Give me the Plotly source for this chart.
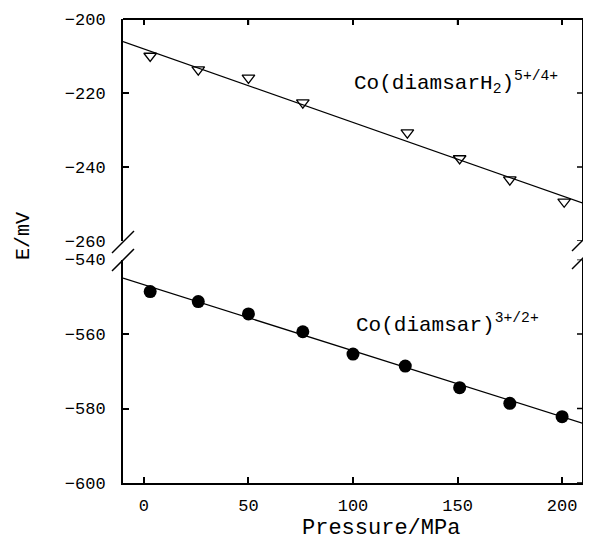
import plotly.graph_objects as go

# ---- data ----
pressure_top = [3, 26, 50, 76, 126, 151, 175, 201]
e_top = [-210.0, -213.7, -215.9, -222.6, -230.7, -237.7, -243.4, -249.4]

pressure_bot = [3, 26, 50, 76, 100, 125, 151, 175, 200]
e_bot = [-548.6, -551.3, -554.6, -559.4, -565.4, -568.6, -574.4, -578.6, -582.2]

fit_x = [-10, 210]
fit_top = [-206.1, -249.8]
fit_bot = [-545.0, -584.0]

x_ticks = [0, 50, 100, 150, 200]
y_ticks_top = [-200, -220, -240, -260]
y_ticks_bot = [-540, -560, -580, -600]

label_top = "Co(diamsarH<sub>2</sub>)<sup>5+/4+</sup>"
label_bot = "Co(diamsar)<sup>3+/2+</sup>"
x_title = "Pressure/MPa"
y_title = "E/mV"

FONT = "Liberation Mono, DejaVu Sans Mono, monospace"
OFF = 8  # default page body margin of the browser
W, H = 591 - OFF, 542 - OFF
L, R, T, B = 123 - OFF, 8, 19 - OFF, 59
PW, PH = W - L - R, H - T - B
TICKLEN = 6
FRAME_W = 2
TICK_W = 1.5


def px_x(sx):  # screen x -> paper
    return (sx - 123) / PW


def px_y(sy):  # screen y -> paper
    return (483 - sy) / PH


fig = go.Figure()

# bottom panel (x / y)
fig.add_trace(go.Scatter(x=fit_x, y=fit_bot, mode="lines",
                         line=dict(color="black", width=1.2),
                         xaxis="x", yaxis="y", showlegend=False))
fig.add_trace(go.Scatter(x=pressure_bot, y=e_bot, mode="markers",
                         marker=dict(symbol="circle", size=13, color="black"),
                         xaxis="x", yaxis="y", showlegend=False))
# top panel (x2 / y2)
fig.add_trace(go.Scatter(x=fit_x, y=fit_top, mode="lines",
                         line=dict(color="black", width=1.2),
                         xaxis="x2", yaxis="y2", showlegend=False))
fig.add_trace(go.Scatter(x=pressure_top, y=e_top, mode="markers",
                         marker=dict(symbol="triangle-down-open", size=11,
                                     color="black", line=dict(width=1.3)),
                         xaxis="x2", yaxis="y2", showlegend=False))

axis_common = dict(showline=True, linecolor="black", linewidth=FRAME_W,
                   ticks="inside", ticklen=TICKLEN, tickwidth=TICK_W, tickcolor="black",
                   showgrid=False, zeroline=False,
                   tickfont=dict(family=FONT, size=17, color="black"))

top_dom = [px_y(241), 1]
bot_dom = [0, px_y(259.5)]

fig.update_layout(
    width=W, height=H,
    margin=dict(l=L, r=R, t=T, b=B, autoexpand=False),
    paper_bgcolor="white", plot_bgcolor="white",
    showlegend=False,
    xaxis=dict(axis_common, range=[-10, 210], tickvals=x_ticks,
               anchor="y", side="bottom", ticklabelstandoff=6),
    xaxis2=dict(axis_common, range=[-10, 210], tickvals=x_ticks,
                anchor="y2", side="top", showticklabels=False, showline=False),
    yaxis=dict(axis_common, range=[-600, -540], tickvals=y_ticks_bot,
               domain=bot_dom, anchor="x", mirror=False,
               ticklabelstandoff=12),
    yaxis2=dict(axis_common, range=[-260, -200], tickvals=y_ticks_top,
                domain=top_dom, anchor="x2", mirror=False,
                ticklabelstandoff=12),
)

frame = dict(color="black", width=FRAME_W)
tick = dict(color="black", width=TICK_W)
# top frame line and right frame lines
fig.add_shape(type="line", xref="paper", yref="paper", x0=0, x1=1, y0=1, y1=1,
              line=frame, layer="above")
for d in (top_dom, bot_dom):
    fig.add_shape(type="line", xref="paper", yref="paper", x0=1, x1=1,
                  y0=d[0], y1=d[1], line=frame, layer="above")
# ticks on the top frame (through the top panel's x scale)
top_h = PH * (top_dom[1] - top_dom[0])
for v in x_ticks:
    fig.add_shape(type="line", xref="x2", yref="y2 domain", x0=v, x1=v,
                  y0=1, y1=1 - TICKLEN / top_h, line=tick, layer="above")
# ticks on the right frame (through each panel's y scale)
for v in y_ticks_top:
    fig.add_shape(type="line", xref="x2 domain", yref="y2", x0=1, x1=1 - TICKLEN / PW,
                  y0=v, y1=v, line=tick, layer="above")
for v in y_ticks_bot:
    fig.add_shape(type="line", xref="x domain", yref="y", x0=1, x1=1 - TICKLEN / PW,
                  y0=v, y1=v, line=tick, layer="above")

# break marks on the left and right frame lines
for xc, y1, y2 in [(123, 242, 260), (583, 240, 258)]:
    for yc in (y1, y2):
        fig.add_shape(type="line", xref="paper", yref="paper",
                      x0=px_x(xc - 11), y0=px_y(yc + 11),
                      x1=px_x(xc + 11), y1=px_y(yc - 11),
                      line=dict(color="black", width=1.5))

fig.add_annotation(text=label_top, xref="paper", yref="paper",
                   x=px_x(352), y=px_y(82), xanchor="left", yanchor="middle",
                   showarrow=False, font=dict(family=FONT, size=21, color="black"))
fig.add_annotation(text=label_bot, xref="paper", yref="paper",
                   x=px_x(354), y=px_y(323), xanchor="left", yanchor="middle",
                   showarrow=False, font=dict(family=FONT, size=21, color="black"))
fig.add_annotation(text=x_title, xref="paper", yref="paper",
                   x=px_x(381), y=px_y(528), xanchor="center", yanchor="middle",
                   showarrow=False, font=dict(family=FONT, size=22, color="black"))
fig.add_annotation(text=y_title, xref="paper", yref="paper",
                   x=px_x(23), y=px_y(236), xanchor="center", yanchor="middle",
                   textangle=-90,
                   showarrow=False, font=dict(family=FONT, size=20, color="black"))

fig.write_html("out.html")
